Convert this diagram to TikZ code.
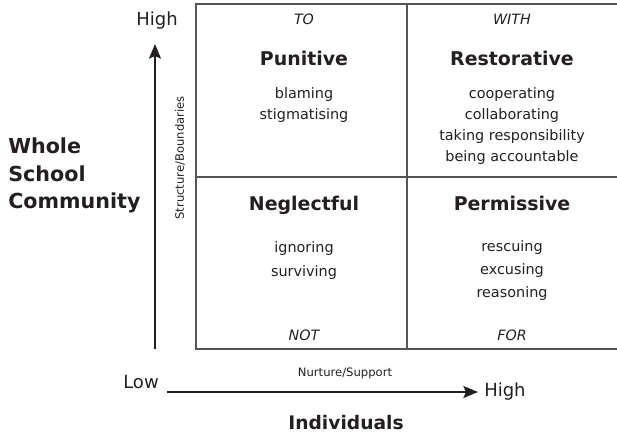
\documentclass[tikz,border=0pt]{standalone}
\usepackage{fontspec}
\setmainfont{DejaVu Sans}
\usetikzlibrary{arrows.meta}
\definecolor{inkgray}{HTML}{231F20}
\definecolor{rulegray}{HTML}{555555}
\begin{document}
\begin{tikzpicture}[x=0.75pt,y=-0.75pt,
        every node/.style={text=inkgray, inner sep=0pt},
        tag/.style={font=\fontsize{10.7}{12}\selectfont\itshape, anchor=base},
        head/.style={font=\fontsize{14.2}{16}\selectfont\bfseries, anchor=base},
        item/.style={font=\fontsize{10.8}{12}\selectfont, anchor=base},
        level/.style={font=\fontsize{13.5}{16}\selectfont, anchor=base},
        axisname/.style={font=\fontsize{8.7}{10}\selectfont},
        axis/.style={draw=inkgray, line width=1.1pt, -{Stealth[length=11pt,width=9pt,inset=2pt]}},
        rule/.style={draw=rulegray, line width=1.1pt}]
    \useasboundingbox (0,0) rectangle (617,436);

    % grid
    \draw[rule] (617,4) -- (196,4) -- (196,349) -- (617,349);
    \draw[rule] (407,4) -- (407,349);
    \draw[rule] (196,177) -- (617,177);

    % top row
    \node[tag] (to) at (304,24) {TO};
    \node[head] (punitive) at (304,65) {Punitive};
    \foreach \w [count=\i] in {blaming,stigmatising}
        \node[item] (pun\i) at (304,77+21*\i) {\w};
    \node[tag] (with) at (512,24) {WITH};
    \node[head] (restorative) at (512,65) {Restorative};
    \foreach \w [count=\i] in {cooperating,collaborating,taking responsibility,being accountable}
        \node[item] (rest\i) at (512,77+21*\i) {\w};

    % bottom row
    \node[head] (neglectful) at (304,210) {Neglectful};
    \foreach \w [count=\i] in {ignoring,surviving}
        \node[item] (neg\i) at (304,228+24*\i) {\w};
    \node[tag] (not) at (304,340) {NOT};
    \node[head] (permissive) at (512,210) {Permissive};
    \foreach \w [count=\i] in {rescuing,excusing,reasoning}
        \node[item] (perm\i) at (512,228+23*\i) {\w};
    \node[tag] (for) at (512,340) {FOR};

    % axes
    \coordinate (ylow) at (155,349);
    \coordinate (yhigh) at (155,44);
    \coordinate (xlow) at (167,392);
    \coordinate (xhigh) at (478,392);
    \draw[axis] (ylow) -- (yhigh);
    \draw[axis] (xlow) -- (xhigh);
    \node[level] (hightop) at (157,25) {High};
    \node[level] (low) at (141,388) {Low};
    \node[level, anchor=west] (highright) at (484,392) {High};
    \node[axisname, rotate=90] (structure) at (180,158) {Structure/Boundaries};
    \node[axisname, anchor=base] (nurture) at (345,376) {Nurture/Support};

    % groups
    \node[font=\fontsize{15.5}{20.5}\selectfont\bfseries, align=left, anchor=north west]
        (whole) at (8,138) {Whole\\School\\Community};
    \node[font=\fontsize{14}{16}\selectfont\bfseries, anchor=base] (indiv) at (346,429) {Individuals};
\end{tikzpicture}
\end{document}
